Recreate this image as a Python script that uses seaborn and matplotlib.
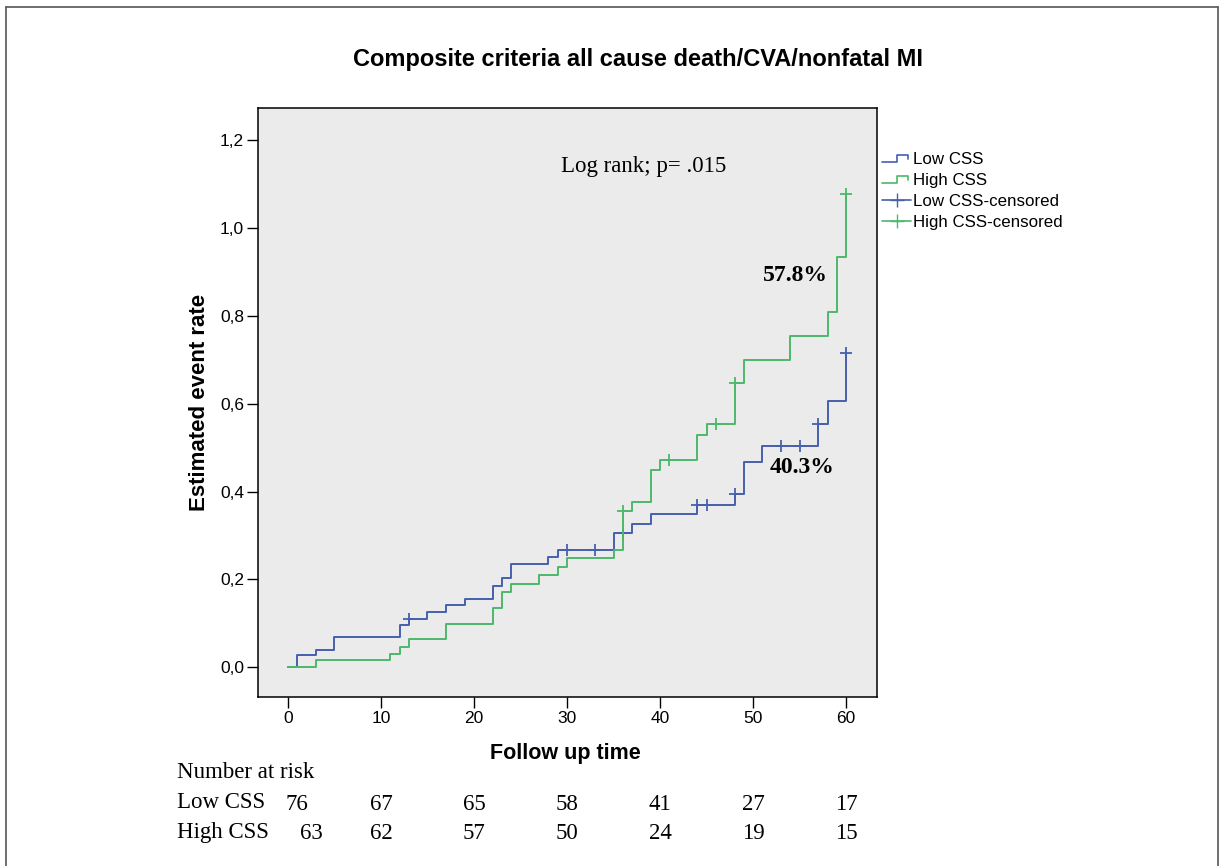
import matplotlib
matplotlib.use("Agg")
import matplotlib.pyplot as plt
import seaborn as sns
import numpy as np
import pandas as pd
from matplotlib.lines import Line2D
from matplotlib.legend_handler import HandlerBase

# step curves (time in months, estimated event rate)
low_t = [0, 1, 3, 5, 12, 13, 15, 17, 19, 22, 23, 24, 28, 29, 35, 37, 39, 44, 48, 49, 51, 57, 58, 60]
low_v = [0, 0.027, 0.040, 0.068, 0.096, 0.109, 0.126, 0.141, 0.155, 0.184, 0.204, 0.235,
         0.252, 0.268, 0.306, 0.326, 0.349, 0.370, 0.394, 0.467, 0.505, 0.553, 0.606, 0.716]
low_cens = [13, 30, 33, 36, 44, 45, 48, 53, 55, 57, 60]

high_t = [0, 3, 11, 12, 13, 17, 22, 23, 24, 27, 29, 30, 35, 36, 37, 39, 40, 44, 45, 48, 49, 54, 58, 59, 60]
high_v = [0, 0.017, 0.031, 0.046, 0.064, 0.098, 0.134, 0.171, 0.189, 0.209, 0.228, 0.248,
          0.267, 0.355, 0.376, 0.449, 0.471, 0.528, 0.555, 0.647, 0.699, 0.754, 0.809, 0.934, 1.078]
high_cens = [36, 41, 46, 48, 60]

risk_times = [0, 10, 20, 30, 40, 50, 60]
risk_low = [76, 67, 65, 58, 41, 27, 17]
risk_high = [63, 62, 57, 50, 24, 19, 15]

groups = ["Low CSS", "High CSS"]
colors = {"Low CSS": "#4660ad", "High CSS": "#4cb86a"}


def level_at(ts, vs, t):
    idx = np.searchsorted(ts, t, side="right") - 1
    return vs[idx]


curves = pd.concat([
    pd.DataFrame({"time": low_t, "rate": low_v, "group": "Low CSS"}),
    pd.DataFrame({"time": high_t, "rate": high_v, "group": "High CSS"}),
])
cens = pd.concat([
    pd.DataFrame({"time": low_cens, "rate": [level_at(low_t, low_v, t) for t in low_cens], "group": "Low CSS"}),
    pd.DataFrame({"time": high_cens, "rate": [level_at(high_t, high_v, t) for t in high_cens], "group": "High CSS"}),
])


class StepHandler(HandlerBase):
    # little "_|‾|" icon like the SPSS legend
    def create_artists(self, legend, orig_handle, xdescent, ydescent, width, height, fontsize, trans):
        xs = np.array([0, 0.5, 0.5, 0.9, 0.9]) * width - xdescent
        ys = np.array([0.15, 0.15, 0.8, 0.8, 0.45]) * height - ydescent
        return [Line2D(xs, ys, color=orig_handle.get_color(), lw=1.2, transform=trans)]


sns.set_style("white")
plt.rcParams["font.family"] = ["Liberation Sans", "DejaVu Sans"]
plt.rcParams["text.color"] = "black"
plt.rcParams["axes.labelcolor"] = "black"
plt.rcParams["xtick.color"] = "black"
plt.rcParams["ytick.color"] = "black"

fig = plt.figure(figsize=(12.23, 8.66), dpi=100)
ax = fig.add_axes([0.211, 0.195, 0.506, 0.680])
ax.set_facecolor("#ebebeb")

for g in groups:
    d = curves[curves.group == g]
    sns.lineplot(x=d.time, y=d.rate, ax=ax, color=colors[g], drawstyle="steps-post",
                 estimator=None, sort=False, lw=1.4, legend=False)
    c = cens[cens.group == g]
    ax.plot(c.time, c.rate, linestyle="none", marker="+", markersize=9,
            markeredgewidth=1.3, color=colors[g])

ax.set_xlim(-3.2, 63.3)
ax.set_ylim(-0.068, 1.273)
ax.set_xticks(range(0, 61, 10))
yt = np.arange(0, 1.21, 0.2)
ax.set_yticks(yt)
ax.set_yticklabels([f"{v:.1f}".replace(".", ",") for v in yt])
ax.tick_params(direction="out", length=8, width=1, color="black", labelsize=12.5, pad=2,
               left=True, bottom=True)
for s in ax.spines.values():
    s.set_color("black")
    s.set_linewidth(1.1)

ax.set_xlabel("Follow up time", fontsize=15.5, fontweight="bold")
ax.xaxis.set_label_coords(0.497, -0.078)
ax.set_ylabel("Estimated event rate", fontsize=16, fontweight="bold")
ax.yaxis.set_label_coords(-0.078, 0.50)

fig.text(0.522, 0.931, "Composite criteria all cause death/CVA/nonfatal MI",
         ha="center", va="center", fontsize=17, fontweight="bold")

serif = ["Liberation Serif", "DejaVu Serif"]
ax.text(38.2, 1.14, "Log rank; p= .015", family=serif, fontsize=16.5, ha="center", va="center")
ax.text(54.5, 0.893, "57.8%", family=serif, fontsize=17, fontweight="bold", ha="center", va="center")
ax.text(55.3, 0.455, "40.3%", family=serif, fontsize=17, fontweight="bold", ha="center", va="center")

# legend
h_low = Line2D([], [], color=colors["Low CSS"])
h_high = Line2D([], [], color=colors["High CSS"])
h_lc = Line2D([], [], color=colors["Low CSS"], marker="+", markersize=10, lw=1.2)
h_hc = Line2D([], [], color=colors["High CSS"], marker="+", markersize=10, lw=1.2)
leg = ax.legend([h_low, h_high, h_lc, h_hc],
                ["Low CSS", "High CSS", "Low CSS-censored", "High CSS-censored"],
                handler_map={h_low: StepHandler(), h_high: StepHandler()},
                loc="upper left", bbox_to_anchor=(0.997, 0.937), frameon=False,
                fontsize=12.2, handlelength=1.75, handletextpad=0.1, labelspacing=0.36,
                numpoints=1, borderaxespad=0)

# number at risk table
fig.text(0.145, 0.108, "Number at risk", family=serif, fontsize=16.5, ha="left", va="center")
fig.text(0.145, 0.073, "Low CSS", family=serif, fontsize=16.5, ha="left", va="center")
fig.text(0.145, 0.039, "High CSS", family=serif, fontsize=16.5, ha="left", va="center")
trans = ax.get_xaxis_transform()
for t, a, b in zip(risk_times, risk_low, risk_high):
    ax.text(t + (1.0 if t == 0 else 0), -0.182, str(a), family=serif, fontsize=16.5,
            ha="center", va="center", transform=trans, clip_on=False)
    ax.text(t + (2.5 if t == 0 else 0), -0.232, str(b), family=serif, fontsize=16.5,
            ha="center", va="center", transform=trans, clip_on=False)

# outer frame
for xs, ys in [([0.005, 0.005], [0, 0.992]), ([0.005, 0.996], [0.992, 0.992]), ([0.996, 0.996], [0, 0.992])]:
    fig.add_artist(Line2D(xs, ys, color="#555555", lw=1.2, transform=fig.transFigure))

fig.savefig("out.png", dpi=100)
